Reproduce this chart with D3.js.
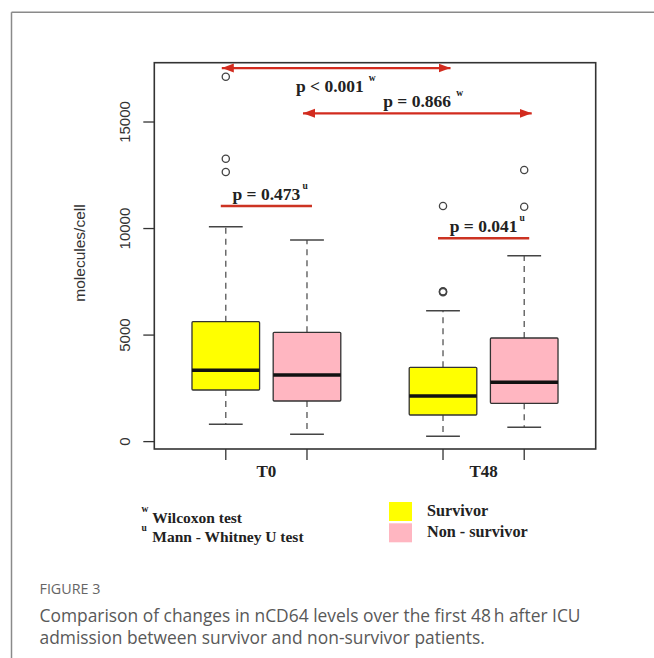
<!DOCTYPE html>
<html><head><meta charset="utf-8">
<script src="https://cdn.jsdelivr.net/npm/d3@7"></script>
<style>
html,body{margin:0;padding:0;background:#fff;}
svg{display:block;}
</style></head>
<body>
<svg id="chart" width="654" height="658"></svg>
<script>
// ---------- data ----------
const groups = ["T0", "T48"];
const series = ["Survivor", "Non - survivor"];
const seriesColors = ["#ffff00", "#ffb6c1"];
// box statistics per group (T0, T48)
const survivorLow    = [789, 226];
const survivorQ1     = [2399, 1226];
const survivorMedian = [3323, 2117];
const survivorQ3     = [5604, 3464];
const survivorHigh   = [10063, 6120];
const survivorOutliers = [[12630, 13254, 17102], [6990, 7012, 7034, 11034]];
const nonSurvivorLow    = [320, 648];
const nonSurvivorQ1     = [1883, 1775];
const nonSurvivorMedian = [3103, 2760];
const nonSurvivorQ3     = [5107, 4839];
const nonSurvivorHigh   = [9439, 8702];
const nonSurvivorOutliers = [[], [11001, 12723]];
const yTicks = [0, 5000, 10000, 15000];
const yLabel = "molecules/cell";
// comparisons: [group, series] from -> to, level, label, test mark, type
const comparisons = [
  {from: ["T0", "Survivor"], to: ["T48", "Survivor"], level: 17510, label: "p < 0.001", mark: "w", kind: "arrow"},
  {from: ["T0", "Non - survivor"], to: ["T48", "Non - survivor"], level: 15384, label: "p = 0.866", mark: "w", kind: "arrow"},
  {from: ["T0", "Survivor"], to: ["T0", "Non - survivor"], level: 11034, label: "p = 0.473", mark: "u", kind: "bar"},
  {from: ["T48", "Survivor"], to: ["T48", "Non - survivor"], level: 9518, label: "p = 0.041", mark: "u", kind: "bar"}
];
const testMarks = ["w", "u"];
const testNames = ["Wilcoxon test", "Mann - Whitney U test"];
const figureTitle = "FIGURE 3";
const captionLines = [
  "Comparison of changes in nCD64 levels over the first 48\u2009h after ICU",
  "admission between survivor and non-survivor patients."
];

// ---------- build ----------
const boxes = [];
groups.forEach((g, i) => {
  boxes.push({group: g, series: series[0], color: seriesColors[0], lo: survivorLow[i], q1: survivorQ1[i], med: survivorMedian[i], q3: survivorQ3[i], hi: survivorHigh[i], out: survivorOutliers[i]});
  boxes.push({group: g, series: series[1], color: seriesColors[1], lo: nonSurvivorLow[i], q1: nonSurvivorQ1[i], med: nonSurvivorMedian[i], q3: nonSurvivorQ3[i], hi: nonSurvivorHigh[i], out: nonSurvivorOutliers[i]});
});

const svg = d3.select("#chart");
const plot = {left: 154.3, right: 595.7, top: 62.7, bottom: 449};

const x0 = d3.scalePoint().domain(groups).range([plot.left, plot.right]).padding(0.516);
const x1 = d3.scalePoint().domain(series).range([-40.6, 40.6]);
const boxW = 67.6;
const cx = (g, s) => x0(g) + x1(s);
const y = d3.scaleLinear().domain([-370, 17760]).range([plot.bottom, plot.top]);

// outer page frame
svg.append("line").attr("x1", 11.5).attr("x2", 654).attr("y1", 12.3).attr("y2", 12.3).attr("stroke", "#8a8a8a").attr("stroke-width", 1.5);
svg.append("line").attr("x1", 11.5).attr("x2", 11.5).attr("y1", 12.3).attr("y2", 658).attr("stroke", "#8a8a8a").attr("stroke-width", 1.5);

// defs: arrow markers
const defs = svg.append("defs");
const arrowColor = "#d22b1e";
defs.append("marker").attr("id", "arrEnd").attr("markerUnits", "userSpaceOnUse")
  .attr("viewBox", "0 -5 12 10").attr("refX", 12).attr("refY", 0)
  .attr("markerWidth", 12).attr("markerHeight", 10).attr("orient", "auto")
  .append("path").attr("d", "M0,-4.5L12,0L0,4.5Z").attr("fill", arrowColor);
defs.append("marker").attr("id", "arrStart").attr("markerUnits", "userSpaceOnUse")
  .attr("viewBox", "0 -5 12 10").attr("refX", 0).attr("refY", 0)
  .attr("markerWidth", 12).attr("markerHeight", 10).attr("orient", "auto")
  .append("path").attr("d", "M12,-4.5L0,0L12,4.5Z").attr("fill", arrowColor);

// y axis
const yAxis = d3.axisLeft(y).tickValues(yTicks).tickSize(11).tickFormat(d3.format("d"));
const gy = svg.append("g").attr("transform", `translate(${plot.left},0)`).call(yAxis);
gy.select(".domain").remove();
gy.selectAll(".tick line").attr("stroke", "#333").attr("stroke-width", 1.3);
gy.selectAll(".tick text").attr("font-family", "Liberation Sans, Arial, sans-serif").attr("font-size", 15)
  .attr("fill", "#333").attr("text-anchor", "middle").attr("x", null).attr("dy", null)
  .attr("transform", "translate(-24.3,0) rotate(-90)");

// x axis ticks (one per box) and group labels
const tickPos = boxes.map(b => cx(b.group, b.series));
svg.append("g").selectAll("line").data(tickPos).join("line")
  .attr("x1", d => d).attr("x2", d => d).attr("y1", plot.bottom).attr("y2", plot.bottom + 11)
  .attr("stroke", "#333").attr("stroke-width", 1.3);
svg.append("g").selectAll("text").data(groups).join("text")
  .attr("x", d => x0(d)).attr("y", 477).attr("text-anchor", "middle")
  .attr("font-family", "Liberation Serif, Times New Roman, serif").attr("font-weight", "bold").attr("font-size", 17)
  .attr("fill", "#222").text(d => d);

// y label
svg.append("text").attr("transform", "translate(85,253) rotate(-90)").attr("text-anchor", "middle")
  .attr("font-family", "Liberation Sans, Arial, sans-serif").attr("font-size", 15.5).attr("fill", "#333").text(yLabel);

// boxplots
const bg = svg.append("g");
boxes.forEach(b => {
  const c = cx(b.group, b.series);
  const g = bg.append("g");
  [[b.q3, b.hi], [b.q1, b.lo]].forEach(([a, e]) => {
    g.append("line").attr("x1", c).attr("x2", c).attr("y1", y(a)).attr("y2", y(e))
      .attr("stroke", "#555").attr("stroke-width", 1.3).attr("stroke-dasharray", "6,5");
    g.append("line").attr("x1", c - boxW / 4).attr("x2", c + boxW / 4).attr("y1", y(e)).attr("y2", y(e))
      .attr("stroke", "#444").attr("stroke-width", 1.4);
  });
  g.append("rect").attr("x", c - boxW / 2).attr("width", boxW).attr("y", y(b.q3)).attr("height", y(b.q1) - y(b.q3))
    .attr("fill", b.color).attr("stroke", "#333").attr("stroke-width", 1.3).attr("rx", 1);
  g.append("line").attr("x1", c - boxW / 2).attr("x2", c + boxW / 2).attr("y1", y(b.med)).attr("y2", y(b.med))
    .attr("stroke", "#111").attr("stroke-width", 3.5);
  g.selectAll("circle").data(b.out).join("circle")
    .attr("cx", c).attr("cy", d => y(d)).attr("r", 3.6)
    .attr("fill", "none").attr("stroke", "#444").attr("stroke-width", 1.3);
});

// plot frame
svg.append("rect").attr("x", plot.left).attr("y", plot.top).attr("width", plot.right - plot.left).attr("height", plot.bottom - plot.top)
  .attr("fill", "none").attr("stroke", "#333").attr("stroke-width", 1.6);

// comparisons
const serif = "Liberation Serif, Times New Roman, serif";
const cg = svg.append("g");
comparisons.forEach((cmp, i) => {
  const xa = cx(cmp.from[0], cmp.from[1]);
  const xb = cx(cmp.to[0], cmp.to[1]);
  const yy = y(cmp.level);
  if (cmp.kind === "arrow") {
    cg.append("line").attr("x1", xa - 4).attr("x2", xb + 7.5).attr("y1", yy).attr("y2", yy)
      .attr("stroke", arrowColor).attr("stroke-width", 2.2)
      .attr("marker-start", "url(#arrStart)").attr("marker-end", "url(#arrEnd)");
  } else {
    cg.append("line").attr("x1", xa - 5).attr("x2", xb + 5).attr("y1", yy).attr("y2", yy)
      .attr("stroke", "#cc3322").attr("stroke-width", 2.6);
  }
  const mid = (xa + xb) / 2 + (cmp.kind === "arrow" ? 1.5 : 0);
  const below = i === 0;
  const ty = below ? yy + 24 : yy - 6.5;
  const t = cg.append("text").attr("x", below ? mid - 6 : mid).attr("y", ty).attr("text-anchor", "middle")
    .attr("font-family", serif).attr("font-weight", "bold").attr("font-size", 17.5).attr("fill", "#222").text(cmp.label);
  const bb = t.node().getBBox();
  cg.append("text").attr("x", bb.x + bb.width + (cmp.mark === "w" ? 5 : 2)).attr("y", ty - 11)
    .attr("font-family", serif).attr("font-weight", "bold").attr("font-size", 9.5).attr("fill", "#222").text(cmp.mark);
});

// legend: tests
const lg = svg.append("g");
testNames.forEach((n, i) => {
  const by = 523.3 + i * 18.5;
  lg.append("text").attr("x", 141.5).attr("y", by - 11).attr("font-family", serif).attr("font-weight", "bold")
    .attr("font-size", 9.5).attr("fill", "#222").text(testMarks[i]);
  lg.append("text").attr("x", 152.3).attr("y", by).attr("font-family", serif).attr("font-weight", "bold")
    .attr("font-size", 15.5).attr("fill", "#222").text(n);
});
// legend: series
series.forEach((s, i) => {
  lg.append("rect").attr("x", 389).attr("y", 502 + i * 21.3).attr("width", 23).attr("height", 19).attr("fill", seriesColors[i]);
  lg.append("text").attr("x", 427).attr("y", 516 + i * 21.3).attr("font-family", serif).attr("font-weight", "bold")
    .attr("font-size", 16.2).attr("fill", "#222").text(s);
});

// caption
svg.append("text").attr("x", 39.5).attr("y", 594).attr("font-family", "Open Sans, sans-serif").attr("font-size", 14.3)
  .attr("fill", "#666").text(figureTitle);
svg.append("g").selectAll("text").data(captionLines).join("text")
  .attr("x", 39.5).attr("y", (d, i) => 622 + i * 22)
  .attr("font-family", "Open Sans, sans-serif").attr("font-size", 17.4).attr("fill", "#595959").text(d => d);
</script>
</body></html>
